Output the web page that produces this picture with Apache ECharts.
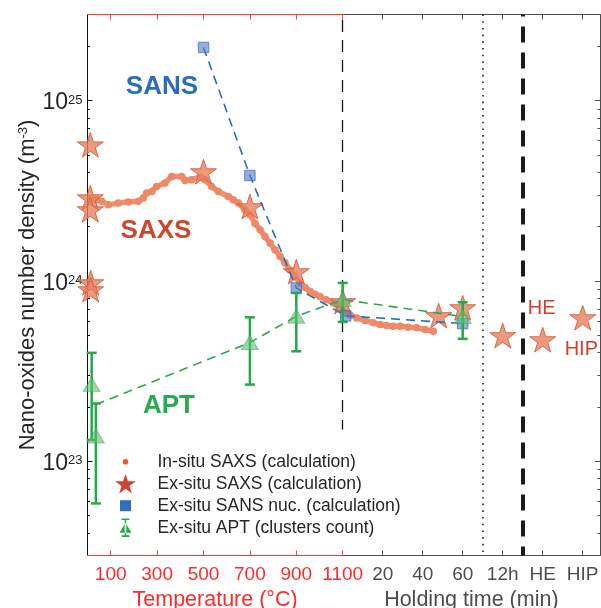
<!DOCTYPE html>
<html><head><meta charset="utf-8">
<script src="https://cdn.jsdelivr.net/npm/echarts@6/dist/echarts.min.js"></script>
<style>html,body{margin:0;padding:0;background:#fff}#c{width:601px;height:608px}</style>
</head><body><div id="c"></div>
<script>
// ================= DATA =================
const tempTicks = [100, 300, 500, 700, 900, 1100];          // °C
const timeTicks = [20, 40, 60];                              // min
const specialLabels = ['12h', 'HE', 'HIP'];
const specialPos = [80, 100, 120];                           // slots on the holding-time axis
const yMajor = [1e23, 1e24, 1e25];
const yMinor = [4e22,5e22,6e22,7e22,8e22,9e22,2e23,3e23,4e23,5e23,6e23,7e23,8e23,9e23,
                2e24,3e24,4e24,5e24,6e24,7e24,8e24,9e24,2e25];

// In-situ SAXS (calculation)
const insituT = [18,37,61,90,133,176,219,240,255,277,298,334,363,406,420,449,485,506,535,564,
  607,628,650,678,700,722,744,765,787,808,830,851,873,894,916,938,959,981,1002,1028,1060,1080,1097];
const insituTN = [2.88e24,2.82e24,2.76e24,2.64e24,2.70e24,2.74e24,2.76e24,2.88e24,3.07e24,3.13e24,
  3.34e24,3.49e24,3.79e24,3.79e24,3.60e24,3.64e24,3.76e24,3.64e24,3.34e24,3.13e24,
  2.94e24,2.82e24,2.70e24,2.48e24,2.33e24,2.08e24,1.92e24,1.76e24,1.62e24,1.49e24,
  1.37e24,1.26e24,1.15e24,1.06e24,9.7e23,9.2e23,8.75e23,8.44e23,8.2e23,7.87e23,7.54e23,7.29e23,6.93e23];
const insituTime = [1.2,3.7,7,11.2,15.3,18.7,22,25.2,28.7,32.7,37,41.2,45.3];
const insituTimeN = [6.64e23,6.46e23,6.23e23,6.02e23,5.85e23,5.72e23,5.65e23,5.61e23,5.60e23,5.54e23,5.49e23,5.37e23,5.25e23];

// Ex-situ SAXS (calculation)
const saxsT = [12,12,12,14,14,500,700,900,1100];
const saxsTN = [5.68e24,2.89e24,2.48e24,9.77e23,8.94e23,4.03e24,2.58e24,1.125e24,7.67e23];
const saxsTime = [48,60];
const saxsTimeN = [6.42e23,7.1e23];
const saxsSpecialN = [4.97e23,4.72e23,6.25e23];   // 12h, HE, HIP

// Ex-situ SANS nuc. (calculation)
const sansT = [500,700,900];
const sansTN = [1.97e25,3.84e24,9.13e23];
const sansTime = [1.5,60];
const sansTimeN = [6.4e23,5.8e23];

// Ex-situ APT (clusters count)
const aptT = [18,36,700,900,1100];
const aptTN = [2.66e23,1.38e23,4.55e23,6.36e23,7.87e23];
const aptTLow = [1.31e23,5.83e22,2.66e23,4.07e23,5.92e23];
const aptTHigh = [3.99e23,2.09e23,6.28e23,8.57e23,9.74e23];
const aptTime = [60];
const aptTimeN = [6.34e23];
const aptTimeLow = [4.77e23];
const aptTimeHigh = [7.61e23];
const aptTrendT = [36,700,900,1100];
const aptTrendTN = [2.06e23,4.55e23,6.36e23,7.87e23];
const aptTrendTime = [60];
const aptTrendTimeN = [6.34e23];

// text annotations
const annoTempText = ['SANS','SAXS','APT'];
const annoTempT = [321,295,351];
const annoTempN = [1.19e25,1.90e24,2.035e23];
const annoTimeText = ['HE','HIP'];
const annoTime = [99.5,119.3];
const annoTimeN = [7.0e23,4.14e23];

// ================= LAYOUT / STYLE =================
const W = 601, H = 608;
const X_LEFT = 87.5, X_SPLIT = 342.7, X_RIGHT = 600, Y_TOP = 14.5, Y_BOTTOM = 555.5;
const T_MAX = 1100, MIN_PX = 2;
const TIME_MAX = (X_RIGHT - X_SPLIT) / MIN_PX;
const K = T_MAX / (X_SPLIT - X_LEFT) * MIN_PX;
const uT = T => T;
const ut = t => T_MAX + t * K;
const U_MAX = ut(TIME_MAX);
const Y_MIN = 3e22, Y_MAX = 3e25;
const F = '"Liberation Sans", Arial, Helvetica, sans-serif';
const RED_AX = '#ff3b3b', RED_TXT = '#ff2b2b', GRAY = '#4d4d4d', INK = '#262626';

const N1 = 'In-situ SAXS (calculation)';
const N2 = 'Ex-situ SAXS (calculation)';
const N3 = 'Ex-situ SANS nuc. (calculation)';
const N4 = 'Ex-situ APT (clusters count)';

const STAR = 'path://M0,-10L2.245,-3.09L9.511,-3.09L3.633,1.18L5.878,8.09L0,3.82L-5.878,8.09L-3.633,1.18L-9.511,-3.09L-2.245,-3.09Z';
const ICON_DOT = 'path://M0,0M22,22M8.2,11A2.8,2.8 0 1,0 13.8,11A2.8,2.8 0 1,0 8.2,11Z';
const ICON_STAR = 'path://M0,0M22,22M11,1.2L13.43,8.66L21.27,8.66L14.93,13.28L17.35,20.74L11,16.13L4.65,20.74L7.07,13.28L0.73,8.66L8.57,8.66Z';
const ICON_SQ = 'path://M0,0M22,22M5.5,5.5L16.5,5.5L16.5,16.5L5.5,16.5Z';
const ICON_APT = 'path://M0,0M22,22M5,16L17,16L11,6Z M10.2,2.5L11.8,2.5L11.8,19.5L10.2,19.5Z M7,1.8L15,1.8L15,3.4L7,3.4Z M7,18.6L15,18.6L15,20.2L7,20.2Z';

const toPairs = (xs, ys, f) => xs.map((x, i) => [f(x), ys[i]]);

const insituData = toPairs(insituT, insituTN, uT).concat(toPairs(insituTime, insituTimeN, ut));
const saxsData = toPairs(saxsT, saxsTN, uT).concat(toPairs(saxsTime, saxsTimeN, ut))
  .concat(toPairs(specialPos, saxsSpecialN, ut));
const sansData = toPairs(sansT, sansTN, uT).concat(toPairs(sansTime, sansTimeN, ut));
const aptData = toPairs(aptT, aptTN, uT).concat(toPairs(aptTime, aptTimeN, ut));
const aptErr = aptT.map((x, i) => [uT(x), aptTLow[i], aptTHigh[i]])
  .concat(aptTime.map((x, i) => [ut(x), aptTimeLow[i], aptTimeHigh[i]]));
const aptTrend = toPairs(aptTrendT, aptTrendTN, uT).concat(toPairs(aptTrendTime, aptTrendTimeN, ut));

const annoColors = {SANS:'#2a6ebb', SAXS:'#d0462a', APT:'#28aa4e', HE:'#d63c28', HIP:'#d63c28'};
const annoData = annoTempText.map((s, i) => ({name:s, value:[uT(annoTempT[i]), annoTempN[i]],
    label:{color:annoColors[s], fontSize:26, fontWeight:'bold', opacity:1}}))
  .concat(annoTimeText.map((s, i) => ({name:s, value:[ut(annoTime[i]), annoTimeN[i]],
    label:{color:annoColors[s], fontSize:20, fontWeight:'normal', opacity:1}})));

const timeLabelMap = {};
timeTicks.forEach(v => timeLabelMap[v] = String(v));
specialPos.forEach((v, i) => timeLabelMap[v] = specialLabels[i]);

const gridBox = {top: Y_TOP, bottom: H - Y_BOTTOM, outerBoundsMode:'none', containLabel:false};
const chart = echarts.init(document.getElementById('c'), null, {renderer:'canvas'});

const yRich = {
  b:{fontSize:23, fontFamily:F, color:INK, padding:[5,0,0,0]},
  s:{fontSize:13, fontFamily:F, color:INK, verticalAlign:'top', padding:[7,0,0,0]}
};
const yLabelFmt = v => '{b|10}{s|' + Math.round(Math.log10(v)) + '}';

function xFrame(grid, min, max, pos, color, ticks, labelOpt, nameOpt) {
  return Object.assign({
    gridIndex:grid, type:'value', min:min, max:max, position:pos,
    axisLine:{show:true, onZero:false, lineStyle:{color:color, width:1}},
    axisTick:{show:true, inside:true, length:5, customValues:ticks, lineStyle:{color:color, width:1}},
    axisLabel:labelOpt || {show:false},
    splitLine:{show:false}
  }, nameOpt || {});
}
function yFrame(grid, pos, lineShow, color, ticks, len, labelOpt, nameOpt) {
  return Object.assign({
    gridIndex:grid, type:'log', logBase:10, min:Y_MIN, max:Y_MAX, position:pos,
    axisLine:{show:lineShow, onZero:false, lineStyle:{color:color, width:1}},
    axisTick:{show:true, inside:true, length:len, customValues:ticks, lineStyle:{color:color, width:1}},
    axisLabel:labelOpt || {show:false},
    splitLine:{show:false}, minorTick:{show:false}
  }, nameOpt || {});
}

const option = {
  animation:false,
  backgroundColor:'#fff',
  grid:[
    Object.assign({left:X_LEFT, right:W - X_RIGHT}, gridBox),
    Object.assign({left:X_LEFT, width:X_SPLIT - X_LEFT}, gridBox),
    Object.assign({left:X_SPLIT, right:W - X_RIGHT}, gridBox)
  ],
  xAxis:[
    {gridIndex:0, type:'value', min:0, max:U_MAX, show:false},
    xFrame(1, 0, T_MAX, 'bottom', RED_AX, tempTicks,
      {show:true, customValues:tempTicks, color:RED_TXT, fontSize:19, fontFamily:F, margin:10,
       formatter: v => String(Math.round(v))},
      {name:'Temperature (°C)', nameLocation:'middle', nameGap:28,
       nameTextStyle:{color:RED_TXT, fontSize:21.5, fontFamily:F}}),
    xFrame(1, 0, T_MAX, 'top', RED_AX, tempTicks),
    xFrame(2, 0, TIME_MAX, 'bottom', GRAY, timeTicks.concat(specialPos),
      {show:true, customValues:timeTicks.concat(specialPos), color:GRAY, fontSize:19, fontFamily:F, margin:10,
       formatter: v => timeLabelMap[Math.round(v)] || ''},
      {name:'Holding time (min)', nameLocation:'middle', nameGap:28,
       nameTextStyle:{color:GRAY, fontSize:21.5, fontFamily:F}}),
    xFrame(2, 0, TIME_MAX, 'top', GRAY, timeTicks.concat(specialPos))
  ],
  yAxis:[
    {gridIndex:0, type:'log', logBase:10, min:Y_MIN, max:Y_MAX, show:false},
    yFrame(1, 'left', true, '#111', yMajor, 5,
      {show:true, customValues:yMajor, formatter:yLabelFmt, rich:yRich, margin:5},
      {name:'{a|Nano-oxides number density (m}{s|-3}{a|)}', nameLocation:'middle', nameRotate:90, nameGap:49,
       nameTextStyle:{rich:{a:{fontSize:22, fontFamily:F, color:INK}, s:{fontSize:13, fontFamily:F, color:INK, verticalAlign:'top'}}}}),
    yFrame(1, 'left', false, '#111', yMinor, 2.5),
    yFrame(2, 'right', true, GRAY, yMajor, 5),
    yFrame(2, 'right', false, GRAY, yMinor, 2.5)
  ],
  legend:{
    orient:'vertical', left:114.5, top:450.7, padding:0, itemGap:0,
    itemWidth:54, itemHeight:22, selectedMode:false,
    textStyle:{fontSize:17.5, color:INK, fontFamily:F},
    data:[
      {name:N1, icon:ICON_DOT, itemStyle:{color:'#f0552f', borderWidth:0, opacity:1}},
      {name:N2, icon:ICON_STAR, itemStyle:{color:'#d0422a', borderWidth:0, opacity:1}},
      {name:N3, icon:ICON_SQ, itemStyle:{color:'#2f6fbf', borderWidth:0, opacity:1}},
      {name:N4, icon:ICON_APT, itemStyle:{color:'#23aa4b', borderWidth:0, opacity:1}}
    ]
  },
  series:[
    {
      type:'line', name:N1, xAxisIndex:0, yAxisIndex:0, data:insituData, z:2,
      symbol:'circle', symbolSize:7.5, showSymbol:true,
      lineStyle:{color:'#f0906f', width:5.5}, itemStyle:{color:'#ee8866', opacity:1}, silent:true
    },
    {
      type:'scatter', name:N2, xAxisIndex:0, yAxisIndex:0, data:saxsData, z:3,
      symbol:STAR, symbolSize:26, symbolKeepAspect:true,
      itemStyle:{color:'rgba(232,128,95,0.8)', borderColor:'rgba(212,95,60,0.9)', borderWidth:1, opacity:1}, silent:true
    },
    {
      type:'line', name:N3, xAxisIndex:0, yAxisIndex:0, data:sansData, z:4,
      symbol:'rect', symbolSize:10.5,
      lineStyle:{color:'#2a6ebb', width:1.6, type:[9,6]},
      itemStyle:{color:'rgba(80,125,195,0.62)', borderColor:'rgba(60,105,185,0.7)', borderWidth:1, opacity:1}, silent:true
    },
    {
      type:'line', name:N4, xAxisIndex:0, yAxisIndex:0, data:aptTrend, z:4,
      symbol:'none', lineStyle:{color:'#2aaa50', width:1.6, type:[9,6]}, silent:true
    },
    {
      type:'custom', name:N4, xAxisIndex:0, yAxisIndex:0, data:aptErr, z:5, silent:true,
      encode:{x:0, y:[1,2]},
      itemStyle:{color:'#23aa4b'},
      renderItem:(params, api) => {
        const x = api.value(0);
        const p1 = api.coord([x, api.value(2)]);
        const p2 = api.coord([x, api.value(1)]);
        const st = {stroke:'#23aa4b', lineWidth:2.5};
        const hw = 5;
        return {type:'group', children:[
          {type:'line', shape:{x1:p1[0], y1:p1[1], x2:p2[0], y2:p2[1]}, style:st},
          {type:'line', shape:{x1:p1[0]-hw, y1:p1[1], x2:p1[0]+hw, y2:p1[1]}, style:st},
          {type:'line', shape:{x1:p2[0]-hw, y1:p2[1], x2:p2[0]+hw, y2:p2[1]}, style:st}
        ]};
      }
    },
    {
      type:'scatter', name:N4, xAxisIndex:0, yAxisIndex:0, data:aptData, z:6,
      symbol:'triangle', symbolSize:[17,14],
      itemStyle:{color:'rgba(95,190,110,0.6)', borderColor:'rgba(60,170,85,0.5)', borderWidth:1, opacity:1}, silent:true
    },
    {
      type:'scatter', name:'annotations', xAxisIndex:0, yAxisIndex:0, data:annoData, z:7, silent:true,
      symbol:'circle', symbolSize:1, itemStyle:{color:'rgba(0,0,0,0)', opacity:1},
      label:{show:true, position:'inside', fontFamily:F, opacity:1, textBorderWidth:0, formatter:p => p.name}
    },
    {
      type:'line', name:'refs', xAxisIndex:0, yAxisIndex:0, data:[[0, 1e24]], symbol:'none', z:8,
      lineStyle:{width:0}, silent:true, clip:false,
      markLine:{
        silent:true, symbol:['none','none'], label:{show:false}, animation:false,
        data:[
          [{coord:[uT(T_MAX), Y_MAX], lineStyle:{color:'#111', width:1.3, type:[12,8], dashOffset:14.5}},
           {coord:[uT(T_MAX), 1.5e23]}],
          [{coord:[ut(70), Y_MAX], lineStyle:{color:'#222', width:1.6, type:[1.6,5.1]}},
           {coord:[ut(70), Y_MIN]}],
          [{coord:[ut(90), Y_MAX], lineStyle:{color:'#1a1a1a', width:4, type:[16,10], dashOffset:14}},
           {coord:[ut(90), Y_MIN]}]
        ]
      }
    }
  ]
};
chart.setOption(option);
</script>
</body></html>
